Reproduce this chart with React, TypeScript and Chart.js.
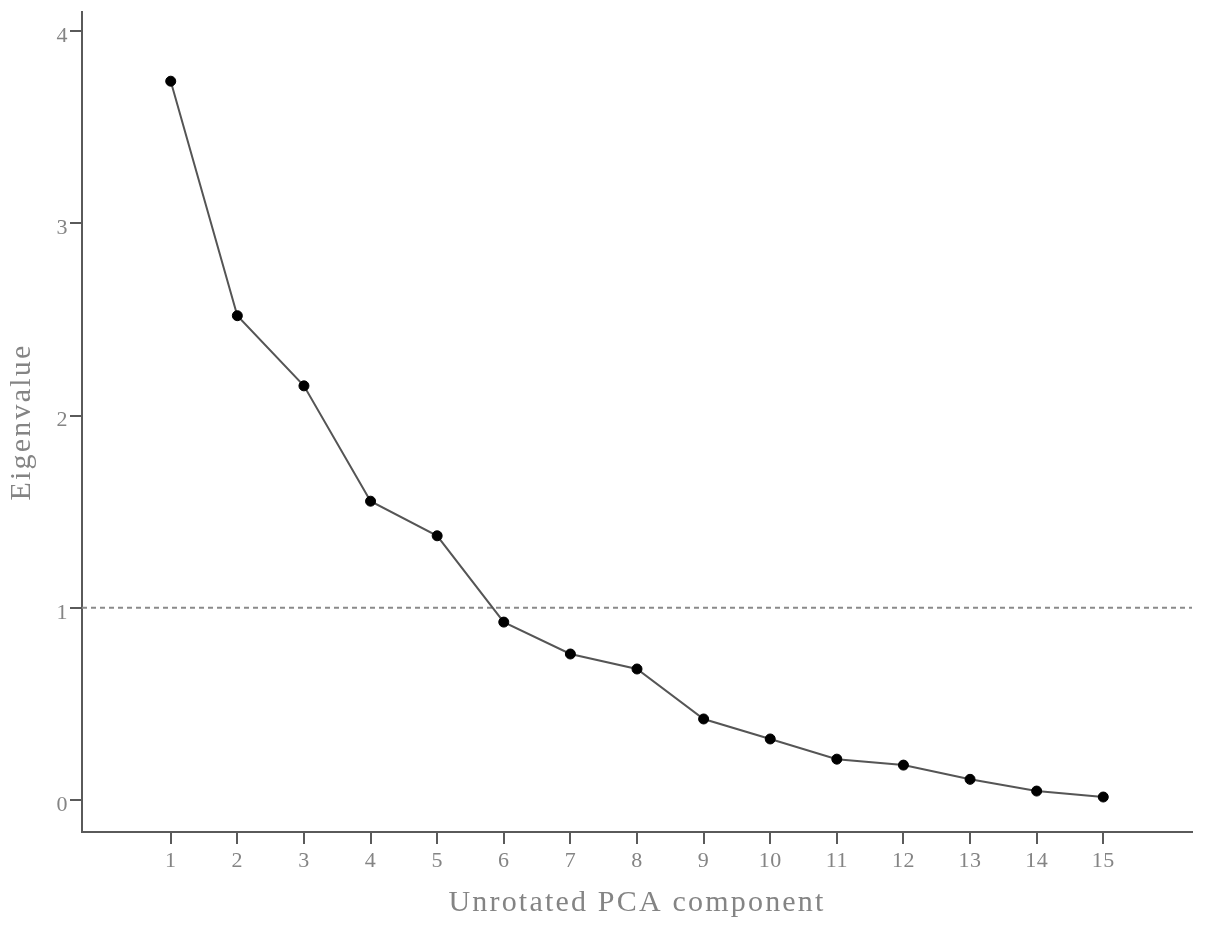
import React, { useEffect, useRef } from "react";
import { Chart, registerables } from "chart.js";

Chart.register(...registerables);

const components = [1, 2, 3, 4, 5, 6, 7, 8, 9, 10, 11, 12, 13, 14, 15];
const eigenvalues = [3.74, 2.52, 2.155, 1.555, 1.375, 0.926, 0.76, 0.682, 0.422, 0.318, 0.213, 0.182, 0.108, 0.047, 0.016];
const yTicks = [0, 1, 2, 3, 4];
const threshold = 1;
const xRange = [-0.332, 16.332];
const yRange = [-0.166, 4.1];

const textColor = "#848484";
const axisColor = "#5a5a5a";
const fontFamily = "'Liberation Serif', 'DejaVu Serif', serif";

const titleSpacing = {
  id: "titleSpacing",
  beforeDraw(chart: any) {
    Object.values(chart.scales).forEach((scale: any) => {
      if (scale._wrappedTitle) return;
      const orig = scale.drawTitle;
      scale.drawTitle = function (...args: any[]) {
        const ctx = this.ctx;
        ctx.save();
        ctx.letterSpacing = "2.2px";
        orig.apply(this, args);
        ctx.restore();
      };
      scale._wrappedTitle = true;
    });
    chart.ctx.letterSpacing = "0.5px";
  },
};

export default function App() {
  const ref = useRef<HTMLCanvasElement>(null);
  useEffect(() => {
    if (!ref.current) return;
    const chart = new Chart(ref.current, {
      type: "line",
      data: {
        datasets: [
          {
            label: "Eigenvalue",
            data: components.map((c, i) => ({ x: c, y: eigenvalues[i] })),
            borderColor: "#555555",
            borderWidth: 2,
            pointBackgroundColor: "#000000",
            pointBorderColor: "#000000",
            pointBorderWidth: 1,
            pointRadius: 5,
            tension: 0,
          },
          {
            label: "Threshold",
            data: [
              { x: xRange[0], y: threshold },
              { x: xRange[1], y: threshold },
            ],
            borderColor: "#8a8a8a",
            borderWidth: 2,
            borderDash: [5, 4],
            pointRadius: 0,
            order: 2,
          },
        ],
      },
      options: {
        animation: false,
        responsive: true,
        maintainAspectRatio: false,
        layout: { padding: { top: 12, right: 13, left: 0, bottom: 0 } },
        plugins: { legend: { display: false }, tooltip: { enabled: false } },
        scales: {
          x: {
            type: "linear",
            min: xRange[0],
            max: xRange[1],
            afterBuildTicks: (s: any) => {
              s.ticks = components.map((v) => ({ value: v }));
            },
            afterFit: (s: any) => {
              s.height = 95;
              s.paddingLeft = 0;
              s.paddingRight = 0;
            },
            grid: { drawOnChartArea: false, drawTicks: true, tickLength: 12, color: axisColor, lineWidth: 2 },
            border: { display: true, color: axisColor, width: 2 },
            ticks: {
              color: textColor,
              font: { family: fontFamily, size: 22 },
              padding: 4,
              maxRotation: 0,
              autoSkip: false,
              callback: (v: any) => String(v),
            },
            title: {
              display: true,
              text: "Unrotated PCA component",
              color: textColor,
              font: { family: fontFamily, size: 30 },
              padding: { top: 0, bottom: 6 },
            },
          },
          y: {
            type: "linear",
            min: yRange[0],
            max: yRange[1],
            afterBuildTicks: (s: any) => {
              s.ticks = yTicks.map((v) => ({ value: v }));
            },
            afterFit: (s: any) => {
              s.width = 82;
              s.paddingTop = 0;
              s.paddingBottom = 0;
            },
            grid: { drawOnChartArea: false, drawTicks: true, tickLength: 12, color: axisColor, lineWidth: 2 },
            border: { display: true, color: axisColor, width: 2 },
            ticks: {
              color: textColor,
              font: { family: fontFamily, size: 22 },
              padding: 2,
              labelOffset: 5,
              callback: (v: any) => String(v),
            },
            title: {
              display: true,
              text: "Eigenvalue",
              color: textColor,
              font: { family: fontFamily, size: 30 },
              padding: { top: 4, bottom: 0 },
            },
          },
        },
      },
      plugins: [titleSpacing],
    });
    return () => chart.destroy();
  }, []);
  return (
    <div style={{ position: "absolute", left: 0, top: 0, width: 1205, height: 927, background: "#fff" }}>
      <canvas ref={ref} />
    </div>
  );
}
